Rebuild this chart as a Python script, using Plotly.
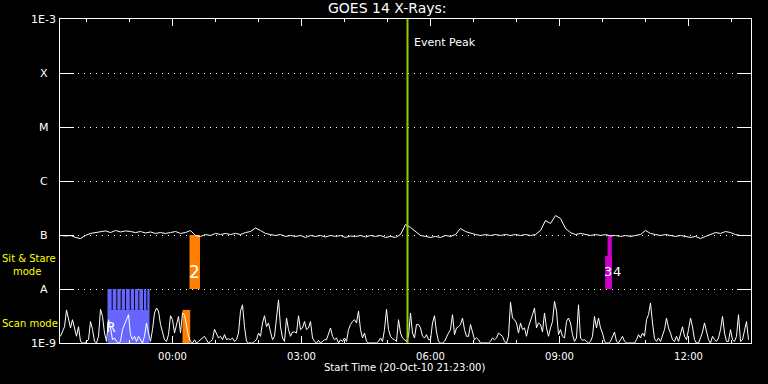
import math
import pandas as pd
import plotly.graph_objects as go

# ---------------- data ----------------
title_text = "GOES 14 X-Rays:"
xlabel_text = "Start Time (20-Oct-10 21:23:00)"

y_tick_vals = [1e-9, 1e-8, 1e-7, 1e-6, 1e-5, 1e-4, 1e-3]
y_tick_text = ["1E-9", "A", "B", "C", "M", "X", "1E-3"]

axis_start = "2010-10-20 21:23:00"
axis_end = "2010-10-21 13:27:10"
tick_origin = "2010-10-21 00:00:00"
event_peak = "2010-10-21 05:27:53"
event_label_time = "2010-10-21 05:33:30"

# GOES 1-8 A flux (units of 1e-7 W/m^2), regular cadence
goes_start = "2010-10-20 21:23:42"
goes_step_s = 418.6
goes_flux_e7 = [
    0.98, 0.96, 0.98, 0.90, 0.86, 0.98, 1.07, 1.11, 1.16, 1.19,
    1.11, 1.21, 1.14, 1.19, 1.16, 1.11, 1.16, 1.09, 1.14, 1.07,
    1.11, 1.07, 1.11, 1.16, 1.07, 1.11, 1.21, 0.98, 0.94, 1.02,
    0.98, 1.07, 1.02, 1.07, 1.02, 1.07, 1.02, 1.11, 1.16, 1.35,
    1.21, 1.07, 1.02, 0.98, 1.02, 0.94, 0.98, 0.94, 0.98, 0.90,
    0.98, 0.94, 0.98, 0.92, 0.98, 0.94, 0.98, 0.90, 0.96, 0.94,
    0.98, 0.92, 0.98, 0.94, 0.98, 0.90, 0.94, 0.90, 1.02, 1.56,
    1.38, 1.16, 0.98, 0.94, 0.90, 0.94, 0.90, 0.98, 0.94, 1.02,
    1.32, 1.16, 1.07, 1.02, 0.98, 1.02, 0.98, 1.02, 0.98, 1.02,
    0.98, 1.02, 0.98, 1.02, 0.98, 1.02, 1.21, 1.86, 1.63, 2.29,
    2.02, 1.32, 1.11, 1.02, 1.07, 1.02, 0.98, 1.02, 0.98, 1.02,
    0.96, 0.98, 0.94, 0.98, 0.94, 0.98, 1.02, 1.21, 1.07, 1.02,
    0.98, 1.02, 0.98, 0.94, 0.98, 0.94, 0.90, 0.94, 0.86, 0.94,
    1.02, 1.11, 1.07, 1.16, 1.11, 1.02, 0.98, 0.98,
]

# low-level background series (units of 1e-9 W/m^2), regular cadence
noise_start = "2010-10-20 21:23:42"
noise_step_s = 167.44
noise_flux_e9 = [
    1.33, 1.6, 2.0, 4.1, 2.7, 1.9, 2.7, 2.0, 1.33, 2.0,
    1.07, 1.0, 1.0, 1.07, 1.15, 2.5, 1.77, 1.07, 1.0, 1.33,
    4.2, 3.1, 1.53, 1.07, 2.7, 1.9, 1.15, 1.24, 1.07, 1.0,
    1.07, 1.77, 2.2, 2.7, 3.35, 1.43, 1.15, 1.33, 1.07, 1.33,
    1.15, 1.0, 1.33, 2.35, 1.53, 1.07, 1.77, 3.6, 4.45, 3.9,
    2.2, 1.53, 1.15, 1.07, 1.43, 3.2, 2.7, 1.53, 2.35, 3.1,
    1.53, 3.6, 3.35, 2.2, 1.33, 1.07, 1.0, 1.15, 1.0, 1.07,
    1.15, 1.24, 1.33, 1.15, 1.0, 1.07, 1.15, 1.8, 1.53, 1.24,
    1.33, 1.15, 1.43, 1.15, 1.2, 1.15, 1.24, 1.07, 1.15, 1.53,
    3.9, 5.1, 2.0, 1.07, 1.0, 1.0, 1.0, 1.07, 1.15, 1.53,
    1.33, 2.35, 3.2, 2.0, 2.35, 1.6, 1.15, 1.33, 2.9, 6.3,
    2.0, 1.24, 1.07, 2.9, 1.77, 1.33,
    1.6, 1.6, 1.53, 3.2, 1.77, 1.9, 2.5, 1.77, 1.9, 2.5,
    1.24, 1.07, 1.0, 1.12, 1.0, 1.07, 1.15, 1.15, 1.53, 1.9,
    1.33, 1.15, 1.24, 1.0, 1.15, 1.07, 1.24, 1.07, 1.77, 2.2,
    2.5, 2.7, 2.35, 3.9, 1.77, 1.24, 1.53, 1.07, 1.0, 1.0,
    1.0, 1.0, 1.0, 1.07, 1.24, 1.07, 1.77, 4.2, 1.77, 1.33,
    1.2, 1.15, 1.07, 2.7, 1.53, 1.24, 1.15, 1.07, 1.33, 3.6,
    1.53, 1.24, 2.2, 2.2, 1.9, 1.33, 1.24, 1.43, 1.15, 1.15,
    2.35, 3.2, 1.6, 1.07, 1.0, 1.0, 1.07, 1.33, 1.53, 1.77,
    3.35, 1.43, 1.9, 2.0, 2.2, 2.9, 1.77, 1.33, 1.33, 2.2,
    1.53, 1.15, 1.24, 1.15, 1.0, 1.0, 1.0, 1.0, 1.0, 1.07,
    1.24, 1.15, 1.24, 1.53, 1.43, 1.33, 1.07, 1.0, 1.33, 5.7,
    2.9, 2.7, 2.35, 1.53, 2.35, 1.77,
    1.9, 1.33, 2.0, 2.5, 3.35, 4.45, 1.9, 2.35, 2.2, 1.6,
    3.6, 1.9, 1.33, 1.9, 2.5, 5.9, 3.9, 1.43, 1.77, 1.33,
    1.24, 2.5, 2.9, 2.35, 1.43, 1.07, 1.24, 5.1, 1.24, 1.12,
    1.15, 1.07, 1.0, 1.07, 1.33, 3.1, 1.9, 2.9, 1.9, 1.53,
    1.07, 1.0, 1.0, 1.07, 1.33, 1.6, 1.07, 1.0, 1.15, 1.33,
    1.07, 1.0, 1.0, 1.0, 1.0, 1.0, 1.15, 1.43, 1.24, 1.53,
    1.33, 2.7, 3.35, 5.5, 2.35, 1.2, 1.07, 1.24, 1.07, 1.43,
    1.77, 2.9, 1.9, 1.53, 1.15, 1.07, 1.33, 1.07, 1.53, 2.0,
    1.33, 1.15, 1.77, 2.9, 2.0, 1.15, 1.0, 1.0, 1.24, 1.6,
    2.35, 1.53, 1.15, 1.0, 1.33, 1.15, 1.07, 1.24, 1.77, 3.1,
    1.53, 1.07, 1.07, 1.77, 1.15, 1.07, 1.33, 3.35, 1.07, 1.15,
    1.77, 2.5, 1.15,
]

# scan-mode observations (blue)
scan_starts = ["2010-10-20 22:29:20", "2010-10-20 22:36:30", "2010-10-20 22:43:00",
               "2010-10-20 22:49:05", "2010-10-20 22:55:05", "2010-10-20 23:01:40",
               "2010-10-20 23:07:40", "2010-10-20 23:13:40", "2010-10-20 23:20:10",
               "2010-10-20 23:24:50"]
scan_ends = ["2010-10-20 22:35:05", "2010-10-20 22:41:35", "2010-10-20 22:47:40",
             "2010-10-20 22:53:40", "2010-10-20 23:00:20", "2010-10-20 23:06:20",
             "2010-10-20 23:12:20", "2010-10-20 23:18:50", "2010-10-20 23:23:25",
             "2010-10-20 23:27:55"]
scan_overlap_top = 4.1e-9

# other observations: (start, end, low, high, colour)
obs_windows = [
    ("2010-10-21 00:13:56", "2010-10-21 00:24:40", 1e-9, 4.1e-9, "#ff8000"),
    ("2010-10-21 00:23:42", "2010-10-21 00:38:21", 1e-8, 1e-7, "#ff8000"),
    ("2010-10-21 10:03:42", "2010-10-21 10:12:57", 1e-8, 4.1e-8, "#cc00cc"),
    ("2010-10-21 10:06:57", "2010-10-21 10:12:57", 1e-8, 1e-7, "#cc00cc"),
]
obs_labels = [
    ("2010-10-20 22:34:40", 2.0e-9, "R", 14),
    ("2010-10-21 00:31:20", 2.07e-8, "2", 17),
    ("2010-10-21 10:07:30", 2.1e-8, "3", 13),
    ("2010-10-21 10:19:30", 2.1e-8, "4", 13),
]

# ---------------- figure ----------------
fig = go.Figure()


def box(t0, t1, lo, hi, color):
    fig.add_trace(go.Scatter(x=[t0, t1, t1, t0, t0], y=[lo, lo, hi, hi, lo],
                             mode="lines", fill="toself", fillcolor=color,
                             line=dict(width=0, color=color), hoverinfo="skip"))


for s, e in zip(scan_starts, scan_ends):
    box(s, e, scan_overlap_top, 1e-8, "#6666ff")
box(scan_starts[0], scan_ends[-1], 1e-9, scan_overlap_top, "#6666ff")

for s, e, lo, hi, c in obs_windows:
    box(s, e, lo, hi, c)

noise_t = pd.date_range(noise_start, periods=len(noise_flux_e9),
                        freq=pd.Timedelta(seconds=noise_step_s))
fig.add_trace(go.Scatter(x=noise_t, y=[v * 1e-9 for v in noise_flux_e9], mode="lines",
                         line=dict(color="white", width=1), hoverinfo="skip"))

goes_t = pd.date_range(goes_start, periods=len(goes_flux_e7),
                       freq=pd.Timedelta(seconds=goes_step_s))
fig.add_trace(go.Scatter(x=goes_t, y=[v * 1e-7 for v in goes_flux_e7], mode="lines",
                         line=dict(color="white", width=1), hoverinfo="skip"))

fig.add_trace(go.Scatter(x=[event_peak, event_peak], y=[1e-9, 1e-3], mode="lines",
                         line=dict(color="#99cc00", width=2), hoverinfo="skip"))

FONT = "DejaVu Sans"
ann = []
for v, t in zip(y_tick_vals, y_tick_text):
    ann.append(dict(x=-0.0232, xref="paper", y=math.log10(v), yref="y", text=t,
                    showarrow=False, xanchor="center", yanchor="middle",
                    font=dict(family=FONT, size=11, color="white")))
ann.append(dict(x=-0.087, xref="paper", y=-7.426, yref="y", text="Sit & Stare",
                showarrow=False, xanchor="left", yanchor="middle",
                font=dict(family=FONT, size=10, color="yellow")))
ann.append(dict(x=-0.071, xref="paper", y=-7.676, yref="y", text="mode",
                showarrow=False, xanchor="left", yanchor="middle",
                font=dict(family=FONT, size=10, color="yellow")))
ann.append(dict(x=-0.087, xref="paper", y=-8.639, yref="y", text="Scan mode",
                showarrow=False, xanchor="left", yanchor="middle",
                font=dict(family=FONT, size=10, color="yellow")))
ann.append(dict(x=0.474, xref="paper", y=1.034, yref="paper", text=title_text,
                showarrow=False, xanchor="center", yanchor="middle",
                font=dict(family=FONT, size=14, color="white")))
ann.append(dict(x=0.498, xref="paper", y=-0.077, yref="paper", text=xlabel_text,
                showarrow=False, xanchor="center", yanchor="middle",
                font=dict(family=FONT, size=10, color="white")))
ann.append(dict(x=event_label_time, xref="x", y=-3.44, yref="y", text="Event Peak",
                showarrow=False, xanchor="left", yanchor="middle",
                font=dict(family=FONT, size=11, color="white")))
for t, v, txt, sz in obs_labels:
    ann.append(dict(x=t, xref="x", y=math.log10(v), yref="y", text=txt,
                    showarrow=False, xanchor="center", yanchor="middle",
                    font=dict(family=FONT, size=sz, color="white")))

fig.update_layout(
    width=768, height=384,
    margin=dict(l=60, r=17, t=19, b=41),
    paper_bgcolor="black", plot_bgcolor="black",
    showlegend=False,
    font=dict(family=FONT, color="white", size=11),
    annotations=ann,
    xaxis=dict(
        type="date", range=[axis_start, axis_end],
        tick0=tick_origin, dtick=3 * 3600 * 1000, tickformat="%H:%M",
        ticks="inside", ticklen=7, tickwidth=1, tickcolor="white",
        showline=True, linecolor="white", linewidth=1, mirror="ticks",
        showgrid=False, zeroline=False, ticklabelstandoff=4,
        tickfont=dict(family=FONT, size=10, color="white"),
        minor=dict(tick0=tick_origin, dtick=3600 * 1000, ticks="inside",
                   ticklen=3, tickwidth=1, tickcolor="white", showgrid=False),
    ),
    yaxis=dict(
        type="log", range=[-9, -3],
        tickvals=y_tick_vals, showticklabels=False,
        ticks="inside", ticklen=14, tickwidth=1, tickcolor="white",
        showline=True, linecolor="white", linewidth=1, mirror="ticks",
        showgrid=True, gridcolor="white", gridwidth=1, griddash="1px,5px",
        zeroline=False,
    ),
)

fig.write_html("out.html")
